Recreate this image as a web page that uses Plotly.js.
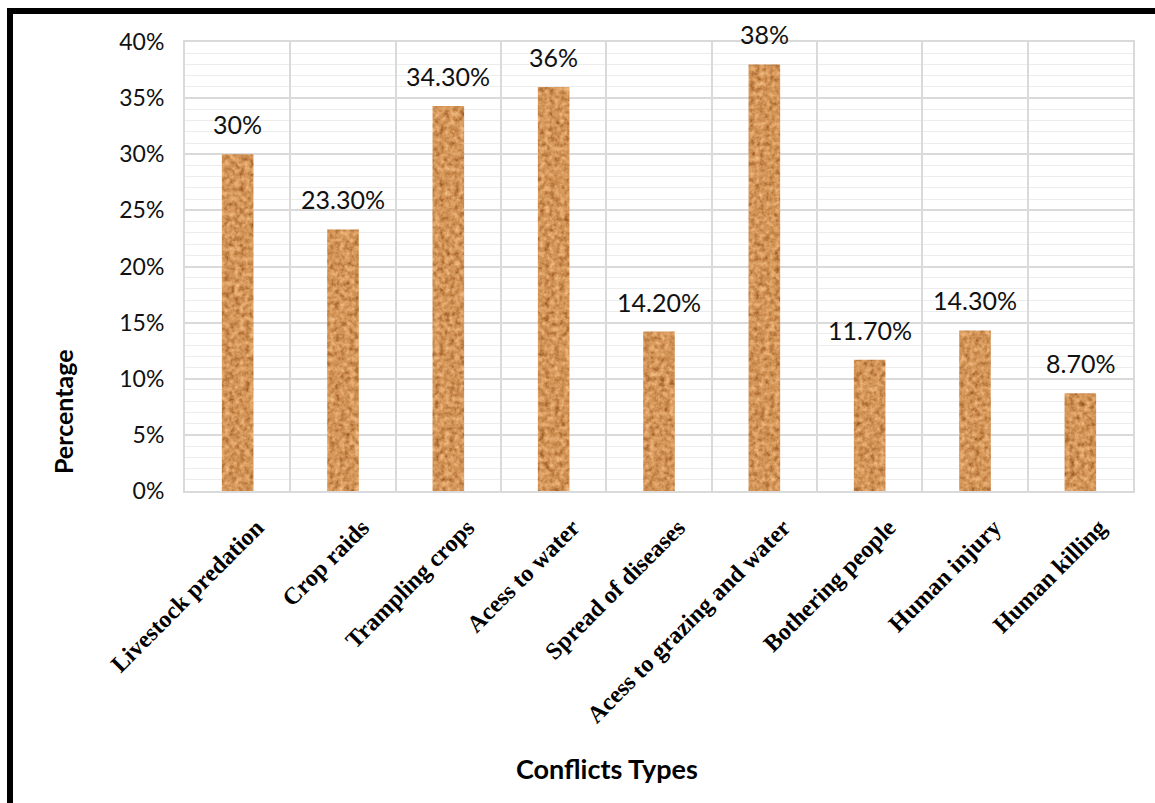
<!DOCTYPE html>
<html>
<head>
<meta charset="utf-8">
<script src="https://cdn.plot.ly/plotly-3.0.1.min.js"></script>
<style>
  html, body { margin: 0; padding: 0; background: #fff; }
  #wrap { position: relative; width: 1155px; height: 803px; overflow: hidden; }
  #chart { position: absolute; left: 0; top: 0; width: 1155px; height: 803px; }
  #frame {
    position: absolute; left: 7px; top: 8px; right: -20px; bottom: -20px;
    border-left: 6px solid #000; border-top: 6px solid #000;
    pointer-events: none;
  }
</style>
</head>
<body>
<!-- granite-like fill used on the bars -->
<svg width="0" height="0" style="position:absolute">
  <defs>
    <filter id="granite" x="0" y="0" width="1" height="1" color-interpolation-filters="sRGB">
      <feTurbulence type="fractalNoise" baseFrequency="0.2" numOctaves="3" seed="7" result="noise"/>
      <feColorMatrix in="noise" type="saturate" values="0" result="gray"/>
      <feComponentTransfer in="gray" result="tint">
        <feFuncR type="table" tableValues="0.42 0.52 0.68 0.79 0.87 0.93 0.98 1.00"/>
        <feFuncG type="table" tableValues="0.22 0.29 0.42 0.54 0.63 0.71 0.80 0.87"/>
        <feFuncB type="table" tableValues="0.06 0.10 0.20 0.30 0.39 0.49 0.60 0.70"/>
        <feFuncA type="linear" slope="0" intercept="1"/>
      </feComponentTransfer>
      <feComposite in="tint" in2="SourceGraphic" operator="in"/>
    </filter>
  </defs>
</svg>
<div id="wrap">
  <div id="chart"></div>
  <div id="frame"></div>
</div>
<script>
const categories = [
  'Livestock predation', 'Crop raids', 'Trampling crops', 'Acess to water',
  'Spread of diseases', 'Acess to grazing and water', 'Bothering people',
  'Human injury', 'Human killing'
];
const percentages = [30, 23.3, 34.3, 36, 14.2, 38, 11.7, 14.3, 8.7];
const yTickValues = [0, 5, 10, 15, 20, 25, 30, 35, 40];

const fmt = v => Number.isInteger(v) ? v + '%' : v.toFixed(2) + '%';

const trace = {
  type: 'bar',
  x: categories,
  y: percentages,
  marker: { color: '#c48a58', line: { width: 0 } },
  hoverinfo: 'x+y'
};

const valueLabels = categories.map((c, i) => ({
  x: c, y: percentages[i], xref: 'x', yref: 'y',
  text: fmt(percentages[i]), showarrow: false,
  yanchor: 'bottom', yshift: 13,
  font: { family: 'Lato, "Open Sans", sans-serif', size: 25, color: '#111' }
}));

const layout = {
  width: 1155, height: 803,
  margin: { l: 185, r: 22, t: 42, b: 312 },
  paper_bgcolor: '#fff', plot_bgcolor: '#fff',
  bargap: 0.70,
  showlegend: false,
  xaxis: {
    type: 'category',
    tickson: 'boundaries',
    showgrid: true, gridcolor: '#dadada', gridwidth: 2,
    showline: true, linecolor: '#dadada', linewidth: 2, mirror: true,
    ticks: '', tickangle: -45,
    ticklabelstandoff: 11, ticklabelshift: 19,
    tickfont: { family: '"Liberation Serif", "Times New Roman", serif', size: 24, color: '#000', weight: 'bold' },
    fixedrange: true
  },
  yaxis: {
    range: [0, 40],
    tickvals: yTickValues,
    ticktext: yTickValues.map(v => v + '%'),
    showgrid: true, gridcolor: '#dadada', gridwidth: 2,
    minor: { dtick: 1, showgrid: true, gridcolor: '#ececec', gridwidth: 1 },
    showline: true, linecolor: '#dadada', linewidth: 2, mirror: true,
    zeroline: false,
    ticks: '', ticklabelstandoff: 14,
    tickfont: { family: 'Lato, "Open Sans", sans-serif', size: 23, color: '#111' },
    fixedrange: true
  },
  annotations: valueLabels.concat([
    {
      xref: 'paper', yref: 'paper', x: -0.1287, y: 0.178,
      text: 'Percentage', showarrow: false, textangle: -90,
      xanchor: 'center', yanchor: 'middle',
      font: { family: 'Lato, "Open Sans", sans-serif', size: 25, color: '#000', weight: 'bold' }
    },
    {
      xref: 'paper', yref: 'paper', x: 0.445, y: -0.617,
      text: 'Conflicts Types', showarrow: false,
      xanchor: 'center', yanchor: 'middle',
      font: { family: 'Lato, "Open Sans", sans-serif', size: 27, color: '#000', weight: 'bold' }
    }
  ])
};

Plotly.newPlot('chart', [trace], layout, { displayModeBar: false, staticPlot: true }).then(gd => {
  gd.querySelectorAll('.barlayer .point path').forEach(p => {
    p.setAttribute('filter', 'url(#granite)');
  });
});
</script>
</body>
</html>
